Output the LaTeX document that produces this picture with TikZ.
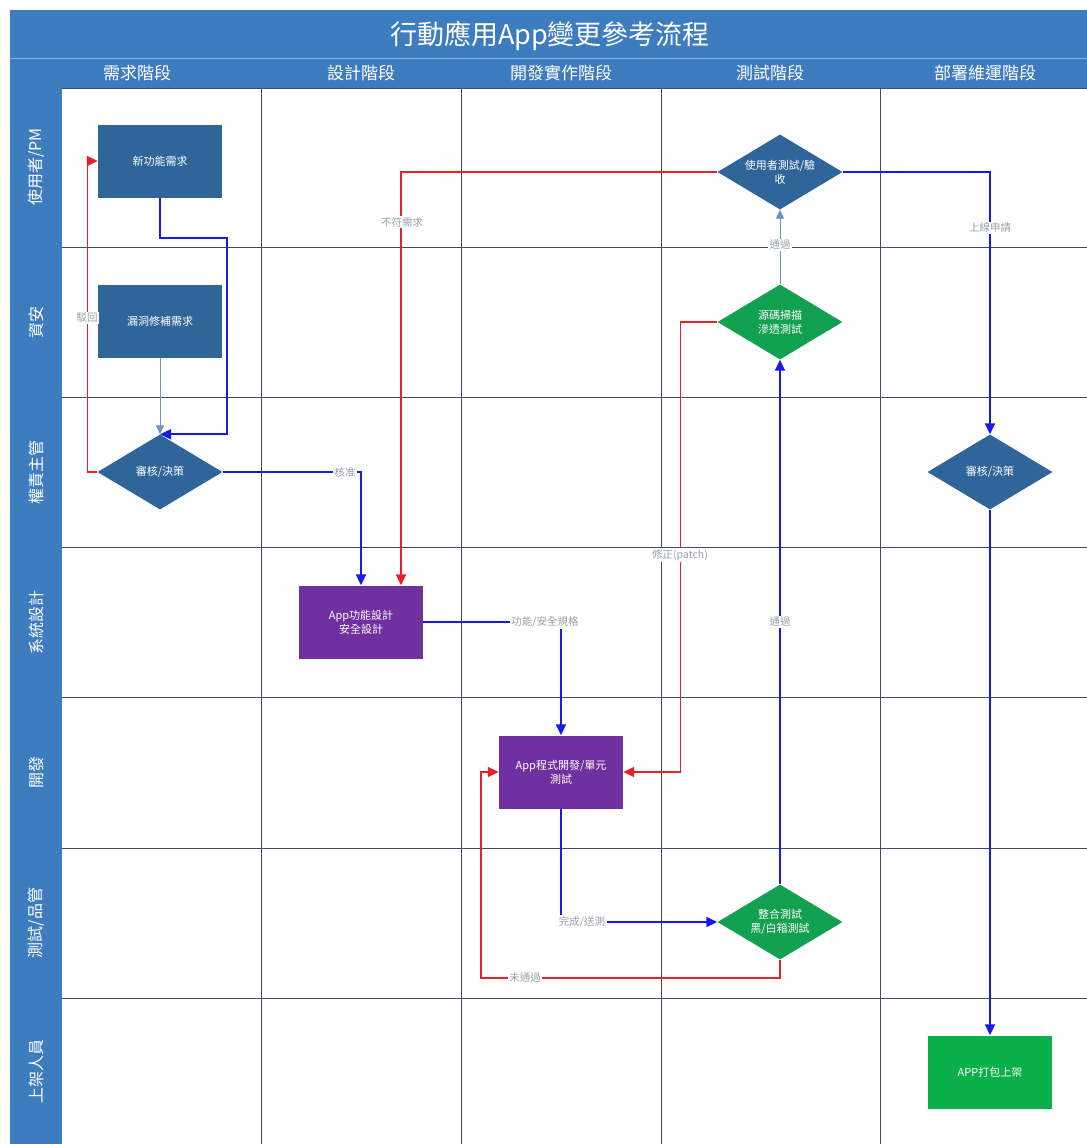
\documentclass[tikz,border=0pt]{standalone}
\usepackage{fontspec}
\setmainfont{Noto Sans CJK TC}
\usetikzlibrary{shapes.geometric,arrows.meta,calc}
\definecolor{hdrblue}{HTML}{3E7CC0}
\definecolor{nodeblue}{HTML}{30659A}
\definecolor{nodepurple}{HTML}{7030A0}
\definecolor{nodegreen}{HTML}{12A150}
\definecolor{boxgreen}{HTML}{0BAF4B}
\definecolor{lineblue}{HTML}{1A1AE6}
\definecolor{linered}{HTML}{E8202A}
\definecolor{gridc}{HTML}{3B4F6B}
\definecolor{lblgray}{HTML}{9AA0A8}
\tikzset{
  box/.style={rectangle, draw=none, minimum width=124pt, minimum height=73pt, text=white, font=\fontsize{11}{14}\selectfont, align=center, inner sep=0pt},
  dia/.style={diamond, draw=none, minimum width=125pt, minimum height=75pt, aspect=1.67, text=white, font=\fontsize{11}{14}\selectfont, align=center, inner sep=0pt},
  bluearrow/.style={draw=lineblue, line width=1.8pt, -{Triangle[length=11pt,width=10pt]}},
  redarrow/.style={draw=linered, line width=1.6pt, -{Triangle[length=11pt,width=10pt]}},
  thinarrow/.style={draw=nodeblue!70, line width=1pt, -{Triangle[length=9pt,width=8pt]}},
  lbl/.style={fill=white, text=lblgray, font=\fontsize{10.5}{12}\selectfont, inner sep=1.5pt},
  lanelbl/.style={text=white, font=\fontsize{16}{18}\selectfont, rotate=90},
  collbl/.style={text=white, font=\fontsize{17}{20}\selectfont},
  gridline/.style={draw=gridc, line width=1pt}
}
\begin{document}
\begin{tikzpicture}[x=1pt,y=-1pt]
\useasboundingbox (0,0) rectangle (1087,1144);
\fill[white] (0,0) rectangle (1087,1144);
% frame
\fill[hdrblue] (10,10) rectangle (1087,88);
\fill[hdrblue] (10,88) rectangle (62,1144);
\draw[hdrblue!60!white, line width=0.6pt] (10,58) -- (1087,58);
\node[text=white, font=\fontsize{27}{30}\selectfont] (title) at (550,36) {行動應用App變更參考流程};
% column headers
\node[collbl] (c1) at (137,73) {需求階段};
\node[collbl] (c2) at (361,73) {設計階段};
\node[collbl] (c3) at (561,73) {開發實作階段};
\node[collbl] (c4) at (770,73) {測試階段};
\node[collbl] (c5) at (985,73) {部署維運階段};
% lane labels
\node[lanelbl] (r1) at (36,167) {使用者/PM};
\node[lanelbl] (r2) at (36,322) {資安};
\node[lanelbl] (r3) at (36,472) {權責主管};
\node[lanelbl] (r4) at (36,622) {系統設計};
\node[lanelbl] (r5) at (36,772) {開發};
\node[lanelbl] (r6) at (36,923) {測試/品管};
\node[lanelbl] (r7) at (36,1071) {上架人員};
% grid
\foreach \yy in {247,397,547,697,848,998} {\draw[gridline] (62,\yy) -- (1087,\yy);}
\foreach \xx in {261,461,661,880} {\draw[gridline] (\xx,88) -- (\xx,1144);}
\draw[gridline] (62,88) -- (1087,88);
% nodes
\node[box, fill=nodeblue] (n1) at (160,161) {新功能需求};
\node[box, fill=nodeblue] (n2) at (160,321) {漏洞修補需求};
\node[dia, fill=nodeblue] (d1) at (160,472) {審核/決策};
\node[box, fill=nodepurple] (p1) at (361,622) {App功能設計\\安全設計};
\node[box, fill=nodepurple] (p2) at (561,772) {App程式開發/單元\\測試};
\node[dia, fill=nodeblue] (d2) at (780,172) {使用者測試/驗\\收};
\node[dia, fill=nodegreen] (d3) at (780,322) {源碼掃描\\滲透測試};
\node[dia, fill=nodegreen] (d4) at (780,922) {整合測試\\黑/白箱測試};
\node[dia, fill=nodeblue] (d5) at (990,472) {審核/決策};
\node[box, fill=boxgreen] (g1) at (990,1072) {APP打包上架};
% connectors
\draw[bluearrow] (n1.south) -- ++(0,40) -- ++(67,0) |- (d1.north);
\draw[thinarrow] (n2.south) -- (d1.north);
\draw[redarrow] (d1.west) -- ++(-10,0) |- (n1.west);
\draw[bluearrow] (d1.east) -| (p1.north);
\draw[redarrow] (d2.west) -| ($(p1.north)+(40,0)$);
\draw[bluearrow] (p1.east) -| (p2.north);
\draw[bluearrow] (p2.south) |- (d4.west);
\draw[redarrow] (d4.south) -- ++(0,18) -| ($(p2.west)+(-18,0)$) -- (p2.west);
\draw[bluearrow] (d4.north) -- (d3.south);
\draw[redarrow] (d3.west) -- ++(-37,0) |- (p2.east);
\draw[thinarrow] (d3.north) -- (d2.south);
\draw[bluearrow] (d2.east) -| (d5.north);
\draw[bluearrow] (d5.south) -- (g1.north);
% connector labels
\node[lbl] (l1) at (87,318) {駁回};
\node[lbl] (l2) at (345,472) {核准};
\node[lbl] (l3) at (402,222) {不符需求};
\node[lbl] (l4) at (545,622) {功能/安全規格};
\node[lbl] (l5) at (582,922) {完成/送測};
\node[lbl] (l6) at (525,978) {未通過};
\node[lbl] (l7) at (780,622) {通過};
\node[lbl] (l8) at (680,555) {修正(patch)};
\node[lbl] (l9) at (780,245) {通過};
\node[lbl] (l10) at (990,228) {上線申請};
\end{tikzpicture}
\end{document}
